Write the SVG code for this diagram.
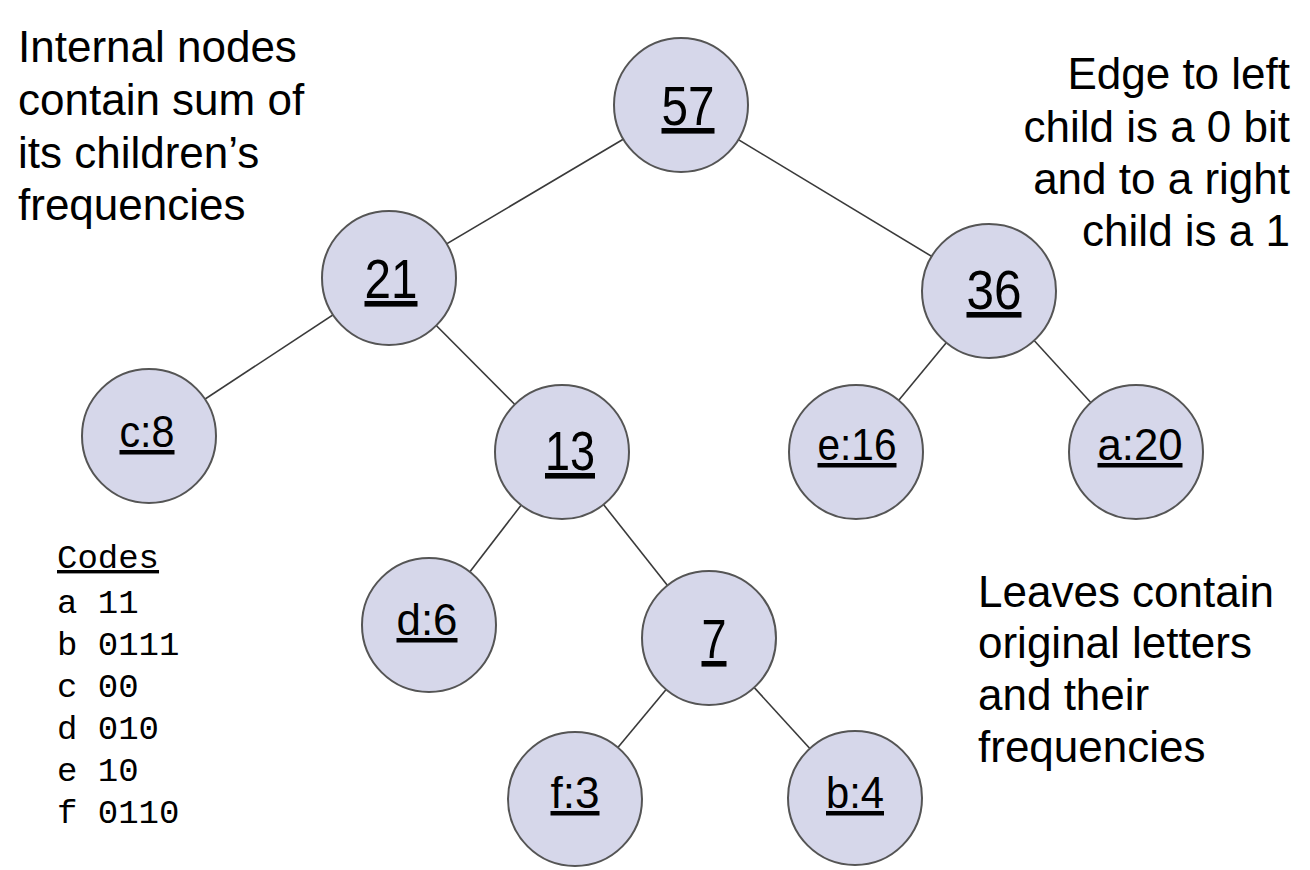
<svg xmlns="http://www.w3.org/2000/svg" width="1310" height="870" viewBox="0 0 1310 870">
<style>
.edge{stroke:#3a3a3a;stroke-width:1.6;fill:none}
.node circle{fill:#d6d7ea;stroke:#555;stroke-width:2}
.lbl{font-family:"Liberation Sans",Arial,sans-serif;fill:#000;text-anchor:middle;text-decoration:underline}
.big{font-size:56px}
.leaf{font-size:45px}
.note{font-family:"Liberation Sans",Arial,sans-serif;font-size:44px;fill:#000}
.code{font-family:"Liberation Mono","Courier New",monospace;font-size:34px;fill:#000}
</style>
<rect width="1310" height="870" fill="#fff"/>
<g id="connectors">
<line class="edge" x1="681" y1="105" x2="389" y2="278"/>
<line class="edge" x1="681" y1="105" x2="989" y2="291"/>
<line class="edge" x1="389" y1="278" x2="149" y2="436"/>
<line class="edge" x1="389" y1="278" x2="562" y2="452"/>
<line class="edge" x1="989" y1="291" x2="856" y2="452"/>
<line class="edge" x1="989" y1="291" x2="1136" y2="452"/>
<line class="edge" x1="562" y1="452" x2="429" y2="625"/>
<line class="edge" x1="562" y1="452" x2="709" y2="638"/>
<line class="edge" x1="709" y1="638" x2="575" y2="799"/>
<line class="edge" x1="709" y1="638" x2="855" y2="798"/>
</g>
<g id="n57" class="node"><circle cx="681" cy="105" r="67"/><text class="lbl big" x="688" y="125" textLength="53" lengthAdjust="spacingAndGlyphs">57</text></g>
<g id="n21" class="node"><circle cx="389" cy="278" r="67"/><text class="lbl big" x="391" y="298" textLength="53" lengthAdjust="spacingAndGlyphs">21</text></g>
<g id="n36" class="node"><circle cx="989" cy="291" r="67"/><text class="lbl big" x="994" y="309" textLength="55" lengthAdjust="spacingAndGlyphs">36</text></g>
<g id="nc8" class="node"><circle cx="149" cy="436" r="67"/><text class="lbl leaf" x="147" y="447" textLength="55" lengthAdjust="spacingAndGlyphs">c:8</text></g>
<g id="n13" class="node"><circle cx="562" cy="452" r="67"/><text class="lbl big" x="570" y="470" textLength="50" lengthAdjust="spacingAndGlyphs">13</text></g>
<g id="ne16" class="node"><circle cx="856" cy="452" r="67"/><text class="lbl leaf" x="857" y="460" textLength="79" lengthAdjust="spacingAndGlyphs">e:16</text></g>
<g id="na20" class="node"><circle cx="1136" cy="452" r="67"/><text class="lbl leaf" x="1140" y="460" textLength="85" lengthAdjust="spacingAndGlyphs">a:20</text></g>
<g id="nd6" class="node"><circle cx="429" cy="625" r="67"/><text class="lbl leaf" x="427" y="635" textLength="61" lengthAdjust="spacingAndGlyphs">d:6</text></g>
<g id="n7" class="node"><circle cx="709" cy="638" r="67"/><text class="lbl big" x="714" y="658" textLength="25" lengthAdjust="spacingAndGlyphs">7</text></g>
<g id="nf3" class="node"><circle cx="575" cy="799" r="67"/><text class="lbl leaf" x="575" y="808" textLength="49" lengthAdjust="spacingAndGlyphs">f:3</text></g>
<g id="nb4" class="node"><circle cx="855" cy="798" r="67"/><text class="lbl leaf" x="855" y="808" textLength="58" lengthAdjust="spacingAndGlyphs">b:4</text></g>
<g id="note-internal">
<text class="note" x="18" y="62">Internal nodes</text>
<text class="note" x="18" y="115">contain sum of</text>
<text class="note" x="18" y="168">its children’s</text>
<text class="note" x="18" y="220">frequencies</text>
</g>
<g id="note-edge" text-anchor="end">
<text class="note" x="1290" y="89">Edge to left</text>
<text class="note" x="1290" y="142">child is a 0 bit</text>
<text class="note" x="1290" y="194">and to a right</text>
<text class="note" x="1290" y="246">child is a 1</text>
</g>
<g id="note-leaves">
<text class="note" x="978" y="607">Leaves contain</text>
<text class="note" x="978" y="658">original letters</text>
<text class="note" x="978" y="710">and their</text>
<text class="note" x="978" y="762">frequencies</text>
</g>
<g id="codes">
<text class="code" x="57" y="568" text-decoration="underline">Codes</text>
<text class="code" x="57" y="613">a 11</text>
<text class="code" x="57" y="655">b 0111</text>
<text class="code" x="57" y="697">c 00</text>
<text class="code" x="57" y="739">d 010</text>
<text class="code" x="57" y="781">e 10</text>
<text class="code" x="57" y="823">f 0110</text>
</g>
</svg>
